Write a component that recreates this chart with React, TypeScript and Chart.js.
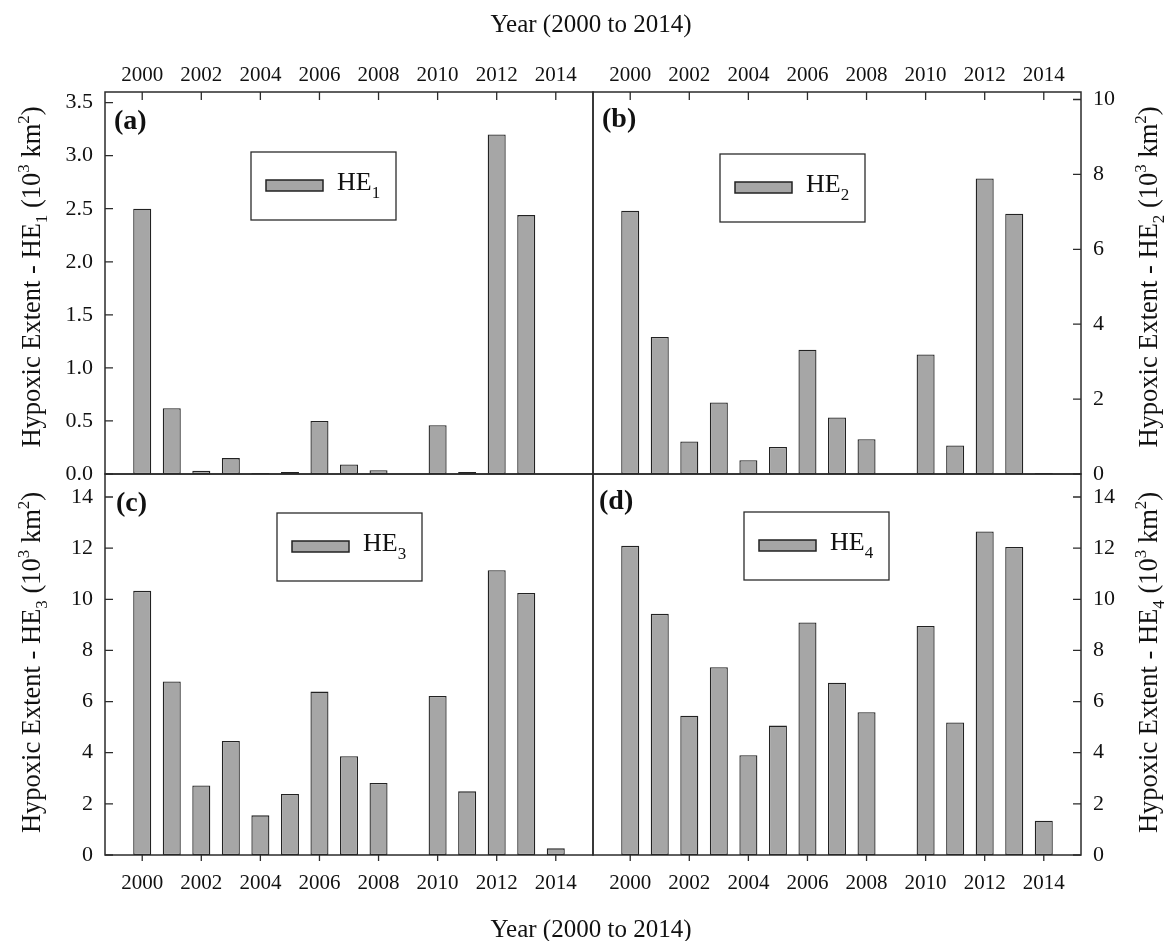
import React, { useEffect, useRef } from 'react';
import { Chart, registerables } from 'chart.js';

Chart.register(...registerables);

// ---------------- data ----------------
const years = [2000, 2001, 2002, 2003, 2004, 2005, 2006, 2007, 2008, 2009, 2010, 2011, 2012, 2013, 2014];
const xTickYears = [2000, 2002, 2004, 2006, 2008, 2010, 2012, 2014];
const he1 = [2.50, 0.62, 0.03, 0.15, 0.01, 0.02, 0.50, 0.09, 0.035, null, 0.46, 0.02, 3.20, 2.44, null];
const he2 = [7.03, 3.66, 0.87, 1.91, 0.37, 0.72, 3.32, 1.51, 0.93, null, 3.19, 0.76, 7.89, 6.95, 0.03];
const he3 = [10.33, 6.79, 2.72, 4.46, 1.55, 2.39, 6.39, 3.86, 2.82, null, 6.22, 2.49, 11.14, 10.25, 0.26];
const he4 = [12.09, 9.43, 5.45, 7.34, 3.90, 5.06, 9.09, 6.74, 5.58, null, 8.96, 5.18, 12.65, 12.05, 1.34];
const yTicksA = [0, 0.5, 1, 1.5, 2, 2.5, 3, 3.5];
const yTicksB = [0, 2, 4, 6, 8, 10];
const yTicksCD = [0, 2, 4, 6, 8, 10, 12, 14];
const xTitle = 'Year (2000 to 2014)';
const yTitleBase = 'Hypoxic Extent - HE';
const seriesBase = 'HE';

// ---------------- layout / style ----------------
const W = 1164;
const H = 941;
const X_MIN = 1998.74;
const X_MAX = 2015.26;
const FAMILY = "'Liberation Serif', 'Times New Roman', Times, serif";
const TEXT = '#111';
const BAR = '#a6a6a6';
const EDGE = '#222';
const FRAME = '#2b2b2b';

type Seg = { t: string; size: number; bold?: boolean; dy?: number };

function drawRich(ctx: CanvasRenderingContext2D, segs: Seg[], x: number, y: number, rot: number, align: 'left' | 'center') {
  ctx.save();
  ctx.translate(x, y);
  if (rot) ctx.rotate(rot);
  ctx.textBaseline = 'alphabetic';
  ctx.textAlign = 'left';
  ctx.fillStyle = TEXT;
  let total = 0;
  const widths = segs.map((s) => {
    ctx.font = `${s.bold ? 'bold ' : ''}${s.size}px ${FAMILY}`;
    const w = ctx.measureText(s.t).width;
    total += w;
    return w;
  });
  let u = align === 'center' ? -total / 2 : 0;
  segs.forEach((s, i) => {
    ctx.font = `${s.bold ? 'bold ' : ''}${s.size}px ${FAMILY}`;
    ctx.fillText(s.t, u, s.dy || 0);
    u += widths[i];
  });
  ctx.restore();
}

type PanelCfg = {
  tag: string;
  values: (number | null)[];
  sub: string;
  yTicks: number[];
  yMax: number;
  decimals: number;
  xPos: 'top' | 'bottom';
  yPos: 'left' | 'right';
  area: { l: number; t: number; r: number; b: number };
  legend: { dx: number; dy: number };
  tagOff: { dx: number; dy: number };
  titleX: number;
  titleDy: number;
  xTitleY?: number;
};

const panels: PanelCfg[] = [
  { tag: '(a)', values: he1, sub: '1', yTicks: yTicksA, yMax: 3.6, decimals: 1, xPos: 'top', yPos: 'left',
    area: { l: 105, t: 92, r: 593, b: 474 }, legend: { dx: 146, dy: 60 }, tagOff: { dx: 9, dy: 37 }, titleX: 40, titleDy: -6, xTitleY: 32 },
  { tag: '(b)', values: he2, sub: '2', yTicks: yTicksB, yMax: 10.2, decimals: 0, xPos: 'top', yPos: 'right',
    area: { l: 593, t: 92, r: 1081, b: 474 }, legend: { dx: 127, dy: 62 }, tagOff: { dx: 9, dy: 35 }, titleX: 1157, titleDy: -6 },
  { tag: '(c)', values: he3, sub: '3', yTicks: yTicksCD, yMax: 14.9, decimals: 0, xPos: 'bottom', yPos: 'left',
    area: { l: 105, t: 474, r: 593, b: 855 }, legend: { dx: 172, dy: 39 }, tagOff: { dx: 11, dy: 37 }, titleX: 40, titleDy: -2, xTitleY: 937 },
  { tag: '(d)', values: he4, sub: '4', yTicks: yTicksCD, yMax: 14.9, decimals: 0, xPos: 'bottom', yPos: 'right',
    area: { l: 593, t: 474, r: 1081, b: 855 }, legend: { dx: 151, dy: 38 }, tagOff: { dx: 6, dy: 35 }, titleX: 1157, titleDy: -2 },
];

function makeConfig(p: PanelCfg): any {
  const yW = p.yPos === 'left' ? p.area.l : W - p.area.r;
  const xH = p.xPos === 'top' ? p.area.t : H - p.area.b;
  const padding = {
    left: p.yPos === 'left' ? 0 : p.area.l,
    right: p.yPos === 'left' ? W - p.area.r : 0,
    top: p.xPos === 'top' ? 0 : p.area.t,
    bottom: p.xPos === 'top' ? H - p.area.b : 0,
  };
  const xTickFont = { family: FAMILY, size: 21 };
  const yTickFont = { family: FAMILY, size: 22 };

  const decor = {
    id: 'decor' + p.tag,
    afterDraw(chart: any) {
      const ctx: CanvasRenderingContext2D = chart.ctx;
      const a = chart.chartArea;
      const xs = chart.scales.x;
      const ys = chart.scales.y;
      ctx.save();
      // frame
      ctx.strokeStyle = FRAME;
      ctx.lineWidth = 1.5;
      ctx.strokeRect(a.left, a.top, a.right - a.left, a.bottom - a.top);
      // tick marks
      ctx.lineWidth = 1.3;
      ctx.beginPath();
      xs.ticks.forEach((t: any) => {
        const px = xs.getPixelForValue(t.value);
        if (p.xPos === 'top') {
          ctx.moveTo(px, a.top);
          ctx.lineTo(px, a.top + 8);
        } else {
          ctx.moveTo(px, a.bottom);
          ctx.lineTo(px, a.bottom + 6);
        }
      });
      ys.ticks.forEach((t: any) => {
        const py = ys.getPixelForValue(t.value);
        if (p.yPos === 'left') {
          ctx.moveTo(a.left, py);
          ctx.lineTo(a.left + 8, py);
        } else {
          ctx.moveTo(a.right, py);
          ctx.lineTo(a.right - 8, py);
        }
      });
      ctx.stroke();

      // panel tag
      drawRich(ctx, [{ t: p.tag, size: 28, bold: true }], a.left + p.tagOff.dx, a.top + p.tagOff.dy, 0, 'left');

      // legend box
      const lx = a.left + p.legend.dx;
      const ly = a.top + p.legend.dy;
      ctx.strokeStyle = FRAME;
      ctx.lineWidth = 1.3;
      ctx.strokeRect(lx, ly, 145, 68);
      const ds = chart.data.datasets[0];
      ctx.fillStyle = ds.backgroundColor;
      ctx.fillRect(lx + 15, ly + 28, 57, 11);
      ctx.strokeStyle = ds.borderColor;
      ctx.lineWidth = 1.5;
      ctx.strokeRect(lx + 15, ly + 28, 57, 11);
      drawRich(ctx, [{ t: seriesBase, size: 26 }, { t: p.sub, size: 17, dy: 8 }], lx + 86, ly + 38, 0, 'left');

      // y title (rotated, reading bottom to top)
      const yc = (a.top + a.bottom) / 2 + p.titleDy;
      drawRich(ctx, [
        { t: yTitleBase, size: 26.5 },
        { t: p.sub, size: 17, dy: 7 },
        { t: ' (10', size: 26.5 },
        { t: '3', size: 17, dy: -11 },
        { t: ' km', size: 26.5 },
        { t: '2', size: 17, dy: -11 },
        { t: ')', size: 26.5 },
      ], p.titleX, yc, -Math.PI / 2, 'center');

      // shared x title
      if (p.xTitleY !== undefined) {
        drawRich(ctx, [{ t: xTitle, size: 25 }], 591, p.xTitleY, 0, 'center');
      }
      ctx.restore();
    },
  };

  return {
    type: 'bar',
    data: {
      datasets: [{
        label: seriesBase + p.sub,
        data: years.map((yr, i) => ({ x: yr, y: p.values[i] })),
        backgroundColor: BAR,
        borderColor: EDGE,
        borderWidth: 1.3,
        borderSkipped: false,
        barPercentage: 0.61,
        categoryPercentage: 1,
      }],
    },
    options: {
      responsive: false,
      animation: false,
      events: [],
      layout: { padding, autoPadding: false },
      plugins: { legend: { display: false }, tooltip: { enabled: false }, title: { display: false } },
      scales: {
        x: {
          type: 'linear',
          position: p.xPos,
          min: X_MIN,
          max: X_MAX,
          offset: false,
          grid: { display: false, drawTicks: false },
          border: { display: false },
          afterBuildTicks: (s: any) => { s.ticks = xTickYears.map((v) => ({ value: v })); },
          afterFit: (s: any) => { s.height = xH; },
          ticks: {
            font: xTickFont,
            color: TEXT,
            padding: p.xPos === 'top' ? 4 : 16,
            autoSkip: false,
            maxRotation: 0,
            minRotation: 0,
            callback: (v: any) => String(v),
          },
        },
        y: {
          type: 'linear',
          position: p.yPos,
          min: 0,
          max: p.yMax,
          grid: { display: false, drawTicks: false },
          border: { display: false },
          afterBuildTicks: (s: any) => { s.ticks = p.yTicks.map((v) => ({ value: v })); },
          afterFit: (s: any) => { s.width = yW; },
          ticks: {
            font: yTickFont,
            color: TEXT,
            padding: 12,
            callback: (v: any) => Number(v).toFixed(p.decimals),
          },
        },
      },
    },
    plugins: [decor],
  };
}

function Panel({ cfg }: { cfg: PanelCfg }) {
  const ref = useRef<HTMLCanvasElement | null>(null);
  useEffect(() => {
    if (!ref.current) return;
    const chart = new Chart(ref.current, makeConfig(cfg));
    return () => chart.destroy();
  }, [cfg]);
  return (
    <canvas
      ref={ref}
      width={W}
      height={H}
      style={{ position: 'absolute', left: 0, top: 0, width: W, height: H }}
    />
  );
}

export default function App() {
  return (
    <div style={{ position: 'absolute', left: 0, top: 0, width: W, height: H, background: '#fff', overflow: 'hidden' }}>
      {panels.map((p) => (
        <Panel key={p.tag} cfg={p} />
      ))}
    </div>
  );
}
